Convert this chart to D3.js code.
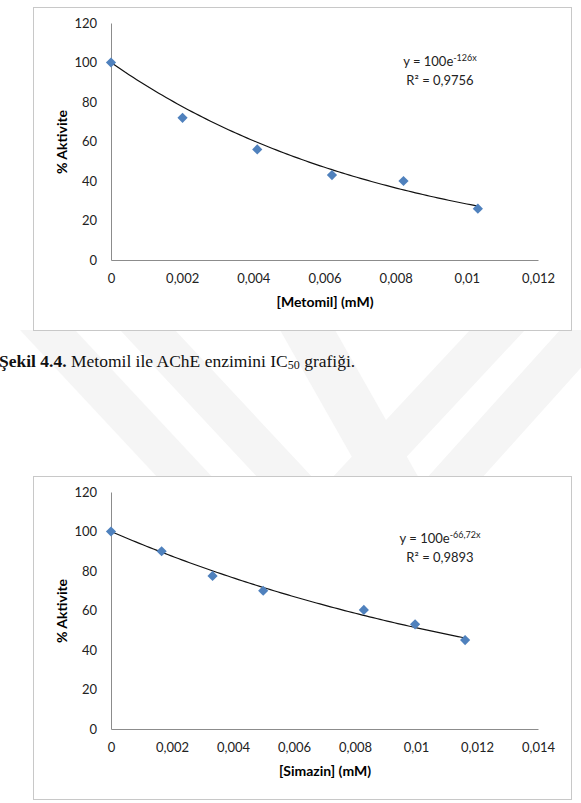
<!DOCTYPE html>
<html>
<head>
<meta charset="utf-8">
<script src="https://cdn.jsdelivr.net/npm/d3@7"></script>
<style>
  body { margin: 0; background: #fff; }
  svg { display: block; }
</style>
</head>
<body>
<svg></svg>
<script>
let width = 581,
    height = 803;

// Metomil data
let metomilX = [0, 0.00201, 0.00411, 0.00621, 0.00822, 0.01031];
let metomilY = [100, 72, 56, 43, 40, 26];
let metomilK = -126;

// Simazin data
let simazinX = [0, 0.00166, 0.00333, 0.00499, 0.00829, 0.00997, 0.01161];
let simazinY = [100, 90, 77.5, 70, 60.3, 53, 45];
let simazinK = -66.72;

let yTicks = [0, 20, 40, 60, 80, 100, 120];
let metomilTicks = [0, 0.002, 0.004, 0.006, 0.008, 0.01, 0.012];
let simazinTicks = [0, 0.002, 0.004, 0.006, 0.008, 0.01, 0.012, 0.014];

let svg = d3.select("svg")
    .attr("width", width)
    .attr("height", height)
    .attr("viewBox", "0 0 " + width + " " + height);

svg.append("rect").attr("width", width).attr("height", height).attr("fill", "#fff");

// faint watermark bands behind the charts
let wm = svg.append("g").attr("fill", "#f5f5f5");
[[[20, 330], [75, 330], [215, 480], [160, 480]],
 [[120, 330], [175, 330], [315, 480], [260, 480]],
 [[280, 330], [335, 330], [420, 480], [365, 480]],
 [[470, 330], [525, 330], [385, 480], [330, 480]],
 [[560, 330], [615, 330], [480, 480], [425, 480]]].forEach(p => {
    wm.append("path").attr("d", "M" + p.join("L") + "Z");
});

let comma = d => String(+d.toFixed(4)).replace(".", ",");

function drawChart(top, xs, ys, k, xTicks, xMax, xTitle, eqY, rSq) {
    let g = svg.append("g").attr("transform", "translate(0," + top + ")");

    g.append("rect")
        .attr("x", 33.5).attr("y", 0.5)
        .attr("width", 538).attr("height", 323)
        .attr("fill", "#fff")
        .attr("stroke", "#c8c8c8");

    let x = d3.scaleLinear().domain([0, xMax]).range([111, 538]);
    let y = d3.scaleLinear().domain([0, 120]).range([253, 16]);

    g.append("g")
        .attr("transform", "translate(111,0)")
        .call(d3.axisLeft(y).tickValues(yTicks).tickSize(0).tickPadding(14))
        .call(a => a.select(".domain").attr("stroke", "#8c8c8c"))
        .selectAll("text")
        .style("font-family", "Lato, 'Open Sans', sans-serif")
        .style("font-size", "13px")
        .attr("fill", "#222");

    g.append("g")
        .attr("transform", "translate(0,253)")
        .call(d3.axisBottom(x).tickValues(xTicks).tickSize(0).tickPadding(14).tickFormat(comma))
        .call(a => a.select(".domain").attr("stroke", "#8c8c8c"))
        .selectAll("text")
        .style("font-family", "Lato, 'Open Sans', sans-serif")
        .style("font-size", "13px")
        .attr("fill", "#222");

    // axis titles
    g.append("text")
        .attr("x", 325).attr("y", 300)
        .attr("text-anchor", "middle")
        .style("font-family", "Lato, 'Open Sans', sans-serif")
        .style("font-size", "14px")
        .style("font-weight", "bold")
        .text(xTitle);

    g.append("text")
        .attr("transform", "translate(67,135) rotate(-90)")
        .attr("text-anchor", "middle")
        .style("font-family", "Lato, 'Open Sans', sans-serif")
        .style("font-size", "14px")
        .style("font-weight", "bold")
        .text("% Aktivite");

    // trend line
    let maxX = d3.max(xs);
    let curve = d3.range(0, 101).map(i => {
        let xv = maxX * i / 100;
        return [xv, 100 * Math.exp(k * xv)];
    });
    g.append("path")
        .datum(curve)
        .attr("fill", "none")
        .attr("stroke", "#111")
        .attr("stroke-width", 1.2)
        .attr("d", d3.line().x(d => x(d[0])).y(d => y(d[1])));

    // points
    g.append("g")
        .selectAll("path")
        .data(xs.map((d, i) => [d, ys[i]]))
        .enter()
        .append("path")
        .attr("d", d3.symbol(d3.symbolSquare, 52))
        .attr("transform", d => "translate(" + x(d[0]) + "," + y(d[1]) + ") rotate(45)")
        .attr("fill", "#4f81bd");

    // equation
    let eq = g.append("text")
        .attr("x", 440).attr("y", eqY)
        .attr("text-anchor", "middle")
        .style("font-family", "Lato, 'Open Sans', sans-serif")
        .style("font-size", "13px")
        .attr("fill", "#222");
    eq.append("tspan").text("y = 100e");
    eq.append("tspan").attr("dy", -5).style("font-size", "9px").text(comma(k) + "x");

    g.append("text")
        .attr("x", 440).attr("y", eqY + 19)
        .attr("text-anchor", "middle")
        .style("font-family", "Lato, 'Open Sans', sans-serif")
        .style("font-size", "13px")
        .attr("fill", "#222")
        .text("R² = " + rSq);
}

drawChart(7, metomilX, metomilY, metomilK, metomilTicks, 0.012, "[Metomil] (mM)", 59, "0,9756");
drawChart(476, simazinX, simazinY, simazinK, simazinTicks, 0.014, "[Simazin] (mM)", 67, "0,9893");

// caption
let cap = svg.append("text")
    .attr("x", -1).attr("y", 367)
    .style("font-family", "'Liberation Serif', 'Times New Roman', serif")
    .style("font-size", "17.5px")
    .attr("fill", "#111");
cap.append("tspan").style("font-weight", "bold").text("Şekil 4.4.");
cap.append("tspan").text(" Metomil ile AChE enzimini IC");
cap.append("tspan").style("font-size", "12px").attr("dy", 2).text("50");
cap.append("tspan").attr("dy", -2).text(" grafiği.");
</script>
</body>
</html>
